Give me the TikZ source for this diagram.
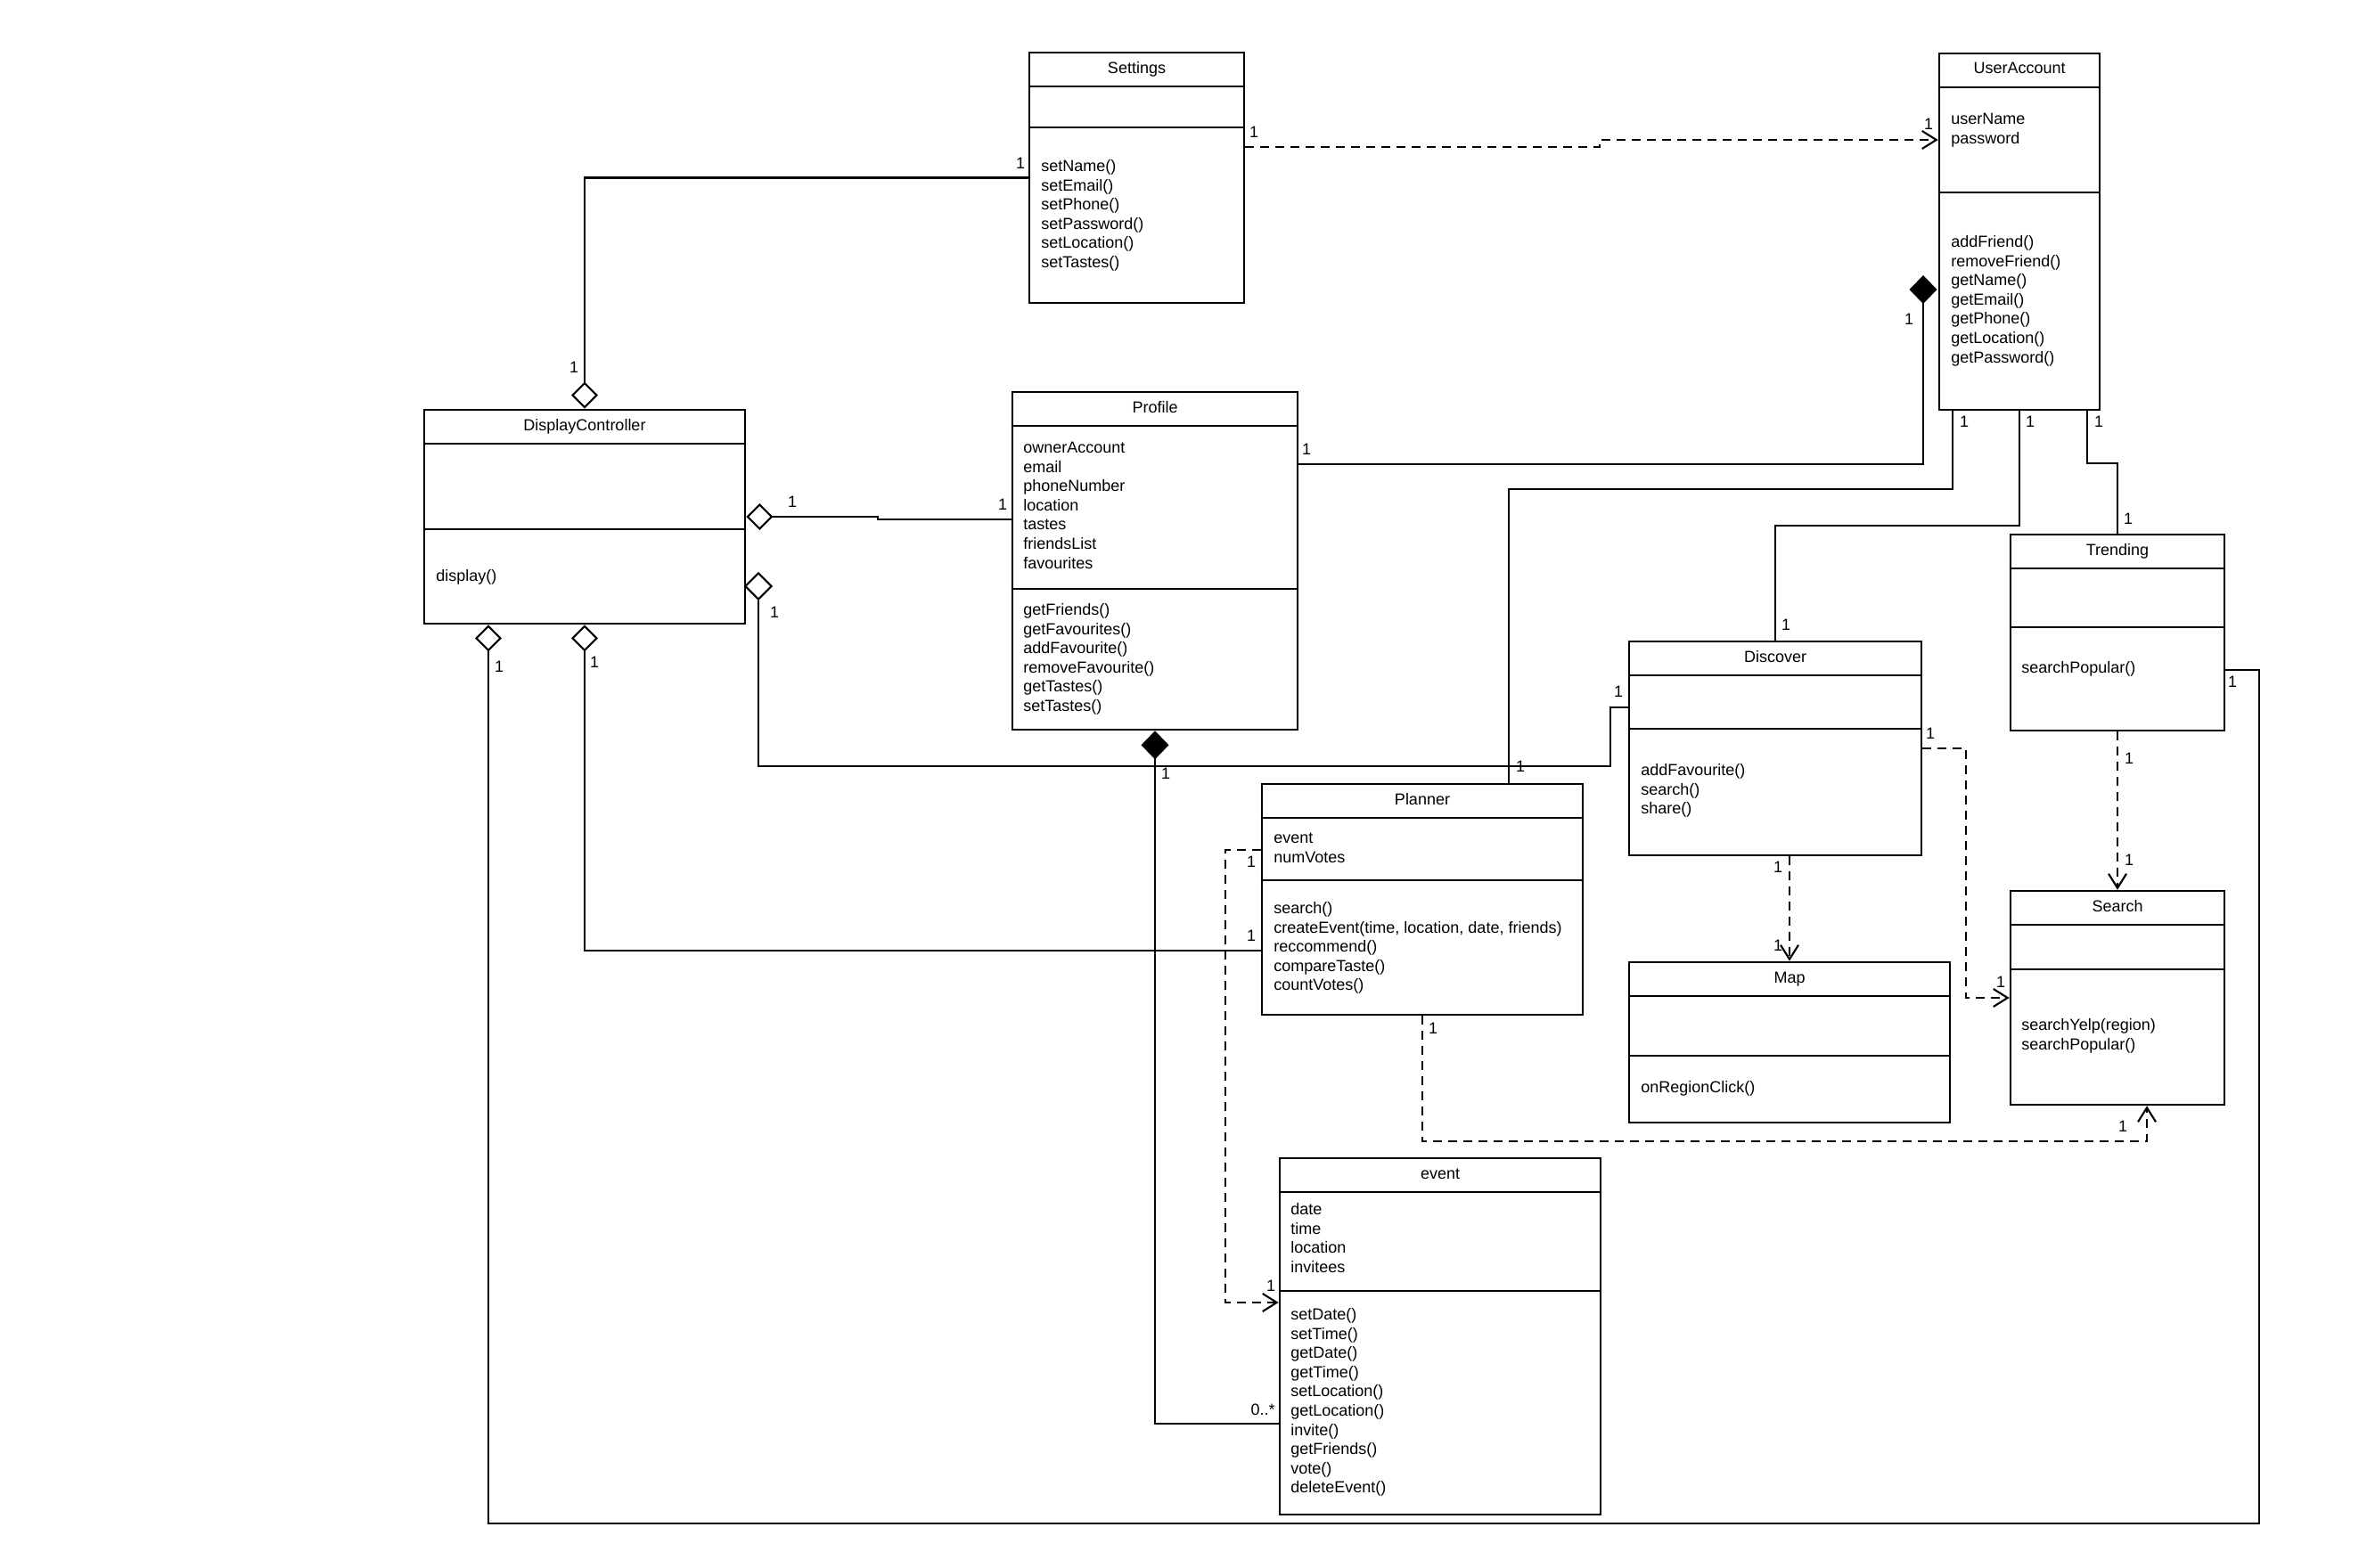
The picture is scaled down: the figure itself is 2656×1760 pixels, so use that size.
\documentclass[tikz,border=0pt]{standalone}
\usepackage{fontspec}
\setmainfont{Liberation Sans}
\usetikzlibrary{arrows.meta,fit,shapes.geometric}

\begin{document}
\begin{tikzpicture}[x=0.5pt,y=-0.5pt,
		font=\fontsize{9pt}{10.8pt}\selectfont,
		box/.style={draw,line width=1.3pt,inner sep=0pt},
		sep/.style={line width=1.3pt},
		title/.style={anchor=base,inner sep=0pt},
		members/.style={anchor=north west,align=left,inner sep=0pt},
		mult/.style={inner sep=0pt},
		link/.style={line width=1.05pt},
		dep/.style={line width=1.05pt,dash pattern=on 5pt off 3.5pt,-{Straight Barb[length=8pt,width=10pt]}},
		agg/.style={line width=1.05pt,line join=miter,-{Diamond[open,length=15pt,width=15pt]}},
		comp/.style={line width=1.05pt,line join=miter,-{Diamond[length=16pt,width=15.5pt]}}]
	\useasboundingbox (0,0) rectangle (2656,1760);

	\node[box,fit={(1155,59) (1396,340)}] (settings) {};
	\draw[sep] (settings.west |- 0,97) -- (settings.east |- 0,97);
	\draw[sep] (settings.west |- 0,143) -- (settings.east |- 0,143);
	\node[title] (settingsT) at (1275.5,83) {Settings};
	\node[members] (settingsM) at (1168,177) {\strut setName()\\setEmail()\\setPhone()\\setPassword()\\setLocation()\\setTastes()};

	\node[box,fit={(2176,60) (2356,460)}] (useraccount) {};
	\draw[sep] (useraccount.west |- 0,98) -- (useraccount.east |- 0,98);
	\draw[sep] (useraccount.west |- 0,216) -- (useraccount.east |- 0,216);
	\node[title] (useraccountT) at (2266,83) {UserAccount};
	\node[members] (useraccountA) at (2189,124) {\strut userName\\password};
	\node[members] (useraccountM) at (2189,262) {\strut addFriend()\\removeFriend()\\getName()\\getEmail()\\getPhone()\\getLocation()\\getPassword()};

	\node[box,fit={(476,460) (836,700)}] (dc) {};
	\draw[sep] (dc.west |- 0,498) -- (dc.east |- 0,498);
	\draw[sep] (dc.west |- 0,594) -- (dc.east |- 0,594);
	\node[title] (dcT) at (656,483) {DisplayController};
	\node[members] (dcM) at (489,637) {\strut display()};

	\node[box,fit={(1136,440) (1456,819)}] (profile) {};
	\draw[sep] (profile.west |- 0,478) -- (profile.east |- 0,478);
	\draw[sep] (profile.west |- 0,661) -- (profile.east |- 0,661);
	\node[title] (profileT) at (1296,463) {Profile};
	\node[members] (profileA) at (1148,493) {\strut ownerAccount\\email\\phoneNumber\\location\\tastes\\friendsList\\favourites};
	\node[members] (profileM) at (1148,675) {\strut getFriends()\\getFavourites()\\addFavourite()\\removeFavourite()\\getTastes()\\setTastes()};

	\node[box,fit={(2256,600) (2496,820)}] (trending) {};
	\draw[sep] (trending.west |- 0,638) -- (trending.east |- 0,638);
	\draw[sep] (trending.west |- 0,704) -- (trending.east |- 0,704);
	\node[title] (trendingT) at (2376,623) {Trending};
	\node[members] (trendingM) at (2268,740) {\strut searchPopular()};

	\node[box,fit={(1828,720) (2156,960)}] (discover) {};
	\draw[sep] (discover.west |- 0,758) -- (discover.east |- 0,758);
	\draw[sep] (discover.west |- 0,818) -- (discover.east |- 0,818);
	\node[title] (discoverT) at (1992,743) {Discover};
	\node[members] (discoverM) at (1841,855) {\strut addFavourite()\\search()\\share()};

	\node[box,fit={(1416,880) (1776,1139)}] (planner) {};
	\draw[sep] (planner.west |- 0,918) -- (planner.east |- 0,918);
	\draw[sep] (planner.west |- 0,988) -- (planner.east |- 0,988);
	\node[title] (plannerT) at (1596,903) {Planner};
	\node[members] (plannerA) at (1429,931) {\strut event\\numVotes};
	\node[members] (plannerM) at (1429,1010) {\strut search()\\createEvent(time, location, date, friends)\\reccommend()\\compareTaste()\\countVotes()};

	\node[box,fit={(1828,1080) (2188,1260)}] (map) {};
	\draw[sep] (map.west |- 0,1118) -- (map.east |- 0,1118);
	\draw[sep] (map.west |- 0,1185) -- (map.east |- 0,1185);
	\node[title] (mapT) at (2008,1103) {Map};
	\node[members] (mapM) at (1841,1211) {\strut onRegionClick()};

	\node[box,fit={(2256,1000) (2496,1240)}] (search) {};
	\draw[sep] (search.west |- 0,1038) -- (search.east |- 0,1038);
	\draw[sep] (search.west |- 0,1088) -- (search.east |- 0,1088);
	\node[title] (searchT) at (2376,1023) {Search};
	\node[members] (searchM) at (2268,1141) {\strut searchYelp(region)\\searchPopular()};

	\node[box,fit={(1436,1300) (1796,1700)}] (event) {};
	\draw[sep] (event.west |- 0,1338) -- (event.east |- 0,1338);
	\draw[sep] (event.west |- 0,1449) -- (event.east |- 0,1449);
	\node[title] (eventT) at (1616,1323) {event};
	\node[members] (eventA) at (1448,1348) {\strut date\\time\\location\\invitees};
	\node[members] (eventM) at (1448,1466) {\strut setDate()\\setTime()\\getDate()\\getTime()\\setLocation()\\getLocation()\\invite()\\getFriends()\\vote()\\deleteEvent()};

	\node[draw,diamond,line width=1.05pt,fill=white,minimum size=15pt,inner sep=0pt] (dcagg) at (851,658) {};
	\coordinate (uacomp) at (2158,309);

	\draw[agg] (settings.west) -| (dc.north);
	\node[mult] (m1) at (1145,183) {1};
	\node[mult] (m2) at (644,412) {1};

	\draw[agg] (profile.west |- 0,583) -- (985,583) -- (985,580) -- (dc.east);
	\node[mult] (m3) at (889,563) {1};
	\node[mult] (m4) at (1125,566) {1};

	\draw[link] (discover.west |- 0,794) -| (1807,860) -| (dcagg.south);
	\node[mult] (m5) at (869,687) {1};
	\node[mult] (m6) at (1816,776) {1};

	\draw[comp] (event.west |- 0,1598) -| (profile.south);
	\node[mult] (m7) at (1308,868) {1};
	\node[mult] (m8) at (1417,1582) {0..*};

	\draw[comp] (profile.east |- 0,521) -| (uacomp);
	\node[mult] (m9) at (1466,504) {1};
	\node[mult] (m10) at (2142,358) {1};

	\draw[dep] (settings.east |- 0,165) -- (1795,165) -- (1795,157) -- (useraccount.west |- 0,157);
	\node[mult] (m11) at (1407,148) {1};
	\node[mult] (m12) at (2164,139) {1};

	\draw[link] (useraccount.south -| 2191,0) |- (1693,549) -- (planner.north -| 1693,0);
	\node[mult] (m13) at (2204,473) {1};
	\node[mult] (m14) at (1706,860) {1};

	\draw[link] (useraccount.south -| 2266,0) |- (discover.north |- 0,590) -- (discover.north);
	\node[mult] (m15) at (2278,473) {1};
	\node[mult] (m16) at (2004,701) {1};

	\draw[link] (useraccount.south -| 2342,0) |- (trending.north |- 0,520) -- (trending.north);
	\node[mult] (m17) at (2355,473) {1};
	\node[mult] (m18) at (2388,582) {1};

	\draw[agg] (trending.east |- 0,752) -| (2535,1710) -| (dc.south -| 548,0);
	\node[mult] (m19) at (2505,765) {1};
	\node[mult] (m20) at (560,748) {1};

	\draw[agg] (planner.west |- 0,1067) -| (dc.south);
	\node[mult] (m21) at (667,743) {1};
	\node[mult] (m22) at (1404,1050) {1};

	\draw[dep] (discover.south -| map.north) -- (map.north);
	\node[mult] (m23) at (1995,973) {1};
	\node[mult] (m24) at (1995,1061) {1};

	\draw[dep] (discover.east) -- (2206,840) |- (search.west);
	\node[mult] (m25) at (2166,823) {1};
	\node[mult] (m26) at (2245,1102) {1};

	\draw[dep] (trending.south) -- (search.north);
	\node[mult] (m27) at (2389,851) {1};
	\node[mult] (m28) at (2389,965) {1};

	\draw[dep] (planner.south) |- (2409,1281) -- (search.south -| 2409,0);
	\node[mult] (m29) at (1608,1154) {1};
	\node[mult] (m30) at (2382,1264) {1};

	\draw[dep] (planner.west |- 0,954) -| (1375,1462) -- (event.west |- 0,1462);
	\node[mult] (m31) at (1404,967) {1};
	\node[mult] (m32) at (1426,1443) {1};
\end{tikzpicture}
\end{document}
